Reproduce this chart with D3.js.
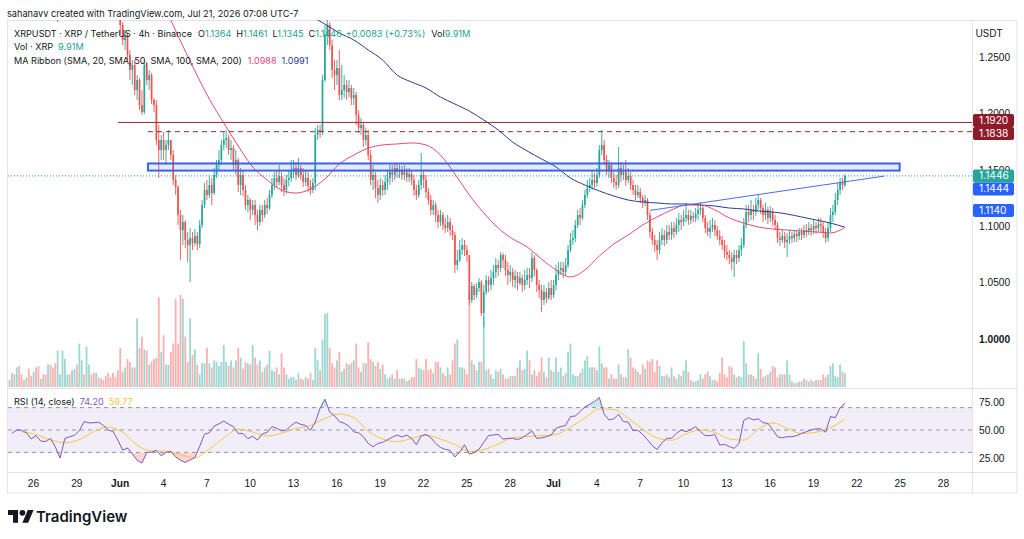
<!DOCTYPE html>
<html>
<head>
<meta charset="utf-8">
<script src="https://cdnjs.cloudflare.com/ajax/libs/d3/7.8.5/d3.min.js"></script>
<style>
  body { margin: 0; background: #ffffff; }
  svg { display: block; font-family: Inter, "Noto Sans", sans-serif; }
  .axis text { fill: #131722; font-size: 10.2px; }
  .axis path, .axis line { display: none; }
  .legend { font-size: 9.1px; fill: #131722; }
</style>
</head>
<body>
<div id="chart"></div>
<script>

// ---- data ----
// 4h bars, first one opens May 24 09:00 (chart time, UTC-7)
var barStart = Date.UTC(2026, 4, 24, 9);
var barHours = 4;
var firstOpen = 1.332;

var closes = [
  1.335,1.330,1.338,1.342,1.336,1.328,1.322,1.325,1.318,1.312,1.316,1.308,1.305,1.310,1.302,1.298,1.304,1.300,1.294,1.290,
  1.292,1.298,1.305,1.312,1.318,1.315,1.322,1.328,1.325,1.332,1.338,1.334,1.340,1.345,1.342,1.338,1.343,1.336,1.330,1.322,
  1.315,1.308,1.300,1.296,1.292,1.290,
  1.2784,1.2651,1.2695,1.2518,1.2385,1.2429,1.2207,1.2296,1.2074,1.2012,1.2429,1.2296,1.2340,1.2119,1.2074,1.1764,1.1675,1.1764,1.1675,1.1720,
  1.1764,1.1631,1.1410,1.1347,1.1099,1.0966,1.1037,1.0878,1.0833,1.0895,1.0851,1.0913,1.0842,1.1011,1.1188,1.1321,1.1277,1.1365,1.1294,1.1454,
  1.1543,1.1587,1.1720,1.1764,1.1782,1.1675,1.1693,1.1543,1.1587,1.1365,1.1454,1.1321,1.1188,1.1232,1.1144,1.1188,1.1099,1.1037,1.1144,1.1099,
  1.1188,1.1161,1.1277,1.1365,1.1427,1.1392,1.1445,1.1365,1.1321,1.1410,1.1427,1.1480,1.1516,1.1454,1.1516,1.1454,1.1392,1.1427,1.1356,1.1321,
  1.1383,1.1808,1.1853,1.1835,1.2296,1.2695,1.2784,1.2606,1.2385,1.2340,1.2402,1.2163,1.2207,1.2252,1.2190,1.2225,1.2136,1.2163,1.1986,1.1871,
  1.1897,1.1764,1.1808,1.1631,1.1410,1.1454,1.1339,1.1277,1.1365,1.1321,1.1392,1.1427,1.1480,1.1454,1.1516,1.1480,1.1498,1.1454,1.1480,1.1436,
  1.1463,1.1410,1.1321,1.1277,1.1365,1.1454,1.1410,1.1303,1.1232,1.1144,1.1188,1.1099,1.1037,1.1099,1.1011,1.0984,1.1037,1.0966,1.0922,1.0656,
  1.0700,1.0789,1.0833,1.0789,1.0745,1.0346,1.0470,1.0390,1.0452,1.0505,1.0230,1.0417,1.0523,1.0479,1.0541,1.0594,1.0656,1.0629,1.0745,1.0700,
  1.0612,1.0567,1.0594,1.0523,1.0558,1.0496,1.0541,1.0479,1.0523,1.0567,1.0541,1.0718,1.0612,1.0479,1.0434,1.0346,1.0417,1.0363,1.0452,1.0390,
  1.0479,1.0567,1.0612,1.0629,1.0594,1.0656,1.0789,1.0878,1.0895,1.1011,1.1099,1.1073,1.1188,1.1277,1.1339,1.1365,1.1410,1.1383,1.1454,1.1675,
  1.1720,1.1587,1.1498,1.1543,1.1427,1.1392,1.1365,1.1516,1.1454,1.1480,1.1410,1.1445,1.1365,1.1321,1.1277,1.1303,1.1250,1.1214,1.1232,1.1099,
  1.0949,1.0878,1.0833,1.0789,1.0878,1.0922,1.0878,1.0949,1.0922,1.0984,1.0949,1.1011,1.1055,1.1037,1.1073,1.1099,1.1055,1.1090,1.1073,1.1108,
  1.1144,1.1161,1.1073,1.0984,1.0949,1.0984,1.1011,1.0966,1.0913,1.0878,1.0833,1.0771,1.0745,1.0718,1.0683,1.0745,1.0718,1.0789,1.0833,1.1011,
  1.1126,1.1099,1.1144,1.1126,1.1188,1.1232,1.1161,1.1099,1.1144,1.1073,1.1126,1.1055,1.1011,1.0895,1.0878,1.0913,1.0860,1.0878,1.0913,1.0895,
  1.0931,1.0913,1.0949,1.0922,1.0966,1.0949,1.0984,1.0966,1.1002,1.0984,1.1019,1.1002,1.0949,1.0895,1.0984,1.1099,1.1126,1.1232,1.1321,1.1392,
  1.1364,1.1446
];

var highs = [
  1.341,1.338,1.343,1.348,1.344,1.337,1.330,1.330,1.327,1.320,1.321,1.318,1.311,1.314,1.311,1.305,1.308,1.307,1.302,1.297,
  1.297,1.303,1.310,1.317,1.323,1.321,1.327,1.333,1.331,1.337,1.343,1.341,1.345,1.350,1.348,1.344,1.347,1.344,1.338,1.332,
  1.324,1.317,1.310,1.303,1.299,1.296,
  1.2918,1.2810,1.2739,1.2713,1.2562,1.2473,1.2473,1.2340,1.2314,1.2207,1.2473,1.2456,1.2385,1.2358,1.2136,1.2119,1.1897,1.1808,1.1835,1.1764,
  1.1853,1.1764,1.1675,1.1454,1.1365,1.1144,1.1099,1.1055,1.0949,1.0984,1.0949,1.0975,1.0949,1.1055,1.1232,1.1383,1.1410,1.1454,1.1427,1.1516,
  1.1587,1.1675,1.1764,1.1835,1.1853,1.1808,1.1764,1.1720,1.1675,1.1605,1.1516,1.1498,1.1365,1.1277,1.1250,1.1232,1.1232,1.1144,1.1188,1.1188,
  1.1232,1.1250,1.1321,1.1427,1.1480,1.1498,1.1543,1.1480,1.1427,1.1454,1.1498,1.1587,1.1587,1.1569,1.1605,1.1543,1.1516,1.1498,1.1480,1.1410,
  1.1427,1.1871,1.1897,1.1897,1.2340,1.2784,1.2846,1.2810,1.2651,1.2473,1.2473,1.2562,1.2429,1.2340,1.2296,1.2296,1.2252,1.2225,1.2190,1.2030,
  1.1959,1.1924,1.1871,1.1853,1.1675,1.1543,1.1480,1.1410,1.1427,1.1410,1.1454,1.1498,1.1543,1.1543,1.1560,1.1560,1.1543,1.1534,1.1543,1.1516,
  1.1516,1.1498,1.1454,1.1365,1.1410,1.1649,1.1498,1.1454,1.1339,1.1277,1.1232,1.1214,1.1144,1.1144,1.1126,1.1073,1.1099,1.1073,1.1011,1.0949,
  1.0789,1.0878,1.0895,1.0878,1.0833,1.0745,1.0505,1.0488,1.0496,1.0541,1.0523,1.0479,1.0567,1.0558,1.0612,1.0656,1.0718,1.0700,1.0771,1.0762,
  1.0745,1.0683,1.0656,1.0629,1.0612,1.0594,1.0594,1.0567,1.0612,1.0629,1.0629,1.0771,1.0745,1.0629,1.0523,1.0479,1.0479,1.0452,1.0505,1.0523,
  1.0523,1.0656,1.0683,1.0683,1.0683,1.0718,1.0833,1.0940,1.0966,1.1055,1.1144,1.1161,1.1232,1.1321,1.1410,1.1427,1.1498,1.1472,1.1516,1.1720,
  1.1853,1.1764,1.1631,1.1587,1.1569,1.1480,1.1454,1.1702,1.1569,1.1543,1.1587,1.1516,1.1480,1.1410,1.1365,1.1365,1.1339,1.1277,1.1277,1.1250,
  1.1126,1.0984,1.0922,1.0878,1.0949,1.0984,1.0966,1.1011,1.1011,1.1037,1.1037,1.1073,1.1117,1.1099,1.1144,1.1206,1.1144,1.1144,1.1126,1.1161,
  1.1197,1.1214,1.1188,1.1099,1.1037,1.1055,1.1073,1.1055,1.1002,1.0966,1.0913,1.0878,1.0833,1.0789,1.0771,1.0789,1.0789,1.0833,1.0895,1.1073,
  1.1188,1.1188,1.1232,1.1188,1.1250,1.1277,1.1250,1.1188,1.1206,1.1170,1.1179,1.1161,1.1099,1.1037,1.0949,1.0966,1.0949,1.0940,1.0966,1.0949,
  1.0966,1.0966,1.0984,1.0984,1.1011,1.1019,1.1037,1.1019,1.1055,1.1037,1.1073,1.1073,1.1037,1.0984,1.1037,1.1161,1.1188,1.1294,1.1383,1.1427,
  1.1427,1.1461
];

var lows = [
  1.329,1.327,1.329,1.336,1.331,1.325,1.318,1.319,1.315,1.309,1.310,1.305,1.300,1.303,1.299,1.294,1.296,1.297,1.291,1.287,
  1.281,1.290,1.296,1.303,1.311,1.311,1.313,1.320,1.321,1.323,1.330,1.330,1.332,1.338,1.338,1.334,1.336,1.333,1.327,1.319,
  1.311,1.304,1.297,1.292,1.288,1.283,
  1.2695,1.2606,1.2562,1.2473,1.2296,1.2252,1.2163,1.2119,1.2030,1.1986,1.1995,1.2252,1.2207,1.2083,1.2012,1.1720,1.1427,1.1587,1.1587,1.1543,
  1.1675,1.1587,1.1365,1.1277,1.1011,1.0700,1.0833,1.0807,1.0683,1.0505,1.0789,1.0824,1.0789,1.0807,1.0984,1.1161,1.1232,1.1250,1.1188,1.1277,
  1.1427,1.1498,1.1543,1.1675,1.1693,1.1631,1.1587,1.1498,1.1454,1.1303,1.1277,1.1268,1.1144,1.1126,1.1055,1.1099,1.1011,1.0966,1.1002,1.1037,
  1.1073,1.1108,1.1144,1.1250,1.1321,1.1339,1.1365,1.1303,1.1268,1.1285,1.1356,1.1392,1.1427,1.1410,1.1427,1.1410,1.1347,1.1356,1.1303,1.1277,
  1.1294,1.1321,1.1764,1.1782,1.1808,1.2278,1.2606,1.2562,1.2314,1.2207,1.2252,1.2119,1.2119,1.2136,1.2119,1.2145,1.2074,1.2074,1.1897,1.1826,
  1.1808,1.1702,1.1720,1.1587,1.1365,1.1321,1.1250,1.1206,1.1232,1.1268,1.1277,1.1321,1.1365,1.1392,1.1410,1.1427,1.1427,1.1410,1.1410,1.1392,
  1.1392,1.1365,1.1268,1.1232,1.1250,1.1321,1.1339,1.1250,1.1188,1.1099,1.1099,1.1037,1.0984,1.1002,1.0966,1.0940,1.0949,1.0913,1.0878,1.0585,
  1.0612,1.0683,1.0745,1.0736,1.0683,1.0301,1.0319,1.0346,1.0363,1.0417,1.0204,1.0107,1.0390,1.0417,1.0434,1.0479,1.0541,1.0558,1.0594,1.0629,
  1.0558,1.0479,1.0505,1.0461,1.0452,1.0434,1.0479,1.0417,1.0434,1.0479,1.0452,1.0505,1.0558,1.0417,1.0363,1.0239,1.0301,1.0319,1.0346,1.0346,
  1.0363,1.0434,1.0523,1.0567,1.0541,1.0567,1.0629,1.0771,1.0833,1.0860,1.0984,1.1011,1.1055,1.1161,1.1250,1.1303,1.1321,1.1339,1.1356,1.1427,
  1.1631,1.1543,1.1454,1.1427,1.1383,1.1339,1.1321,1.1339,1.1392,1.1410,1.1356,1.1383,1.1321,1.1277,1.1232,1.1250,1.1206,1.1161,1.1179,1.1055,
  1.0895,1.0833,1.0771,1.0700,1.0753,1.0833,1.0824,1.0842,1.0878,1.0878,1.0895,1.0922,1.0949,1.0966,1.1002,1.1037,1.1011,1.1019,1.1037,1.1037,
  1.1055,1.1099,1.1037,1.0940,1.0913,1.0895,1.0949,1.0913,1.0878,1.0833,1.0789,1.0718,1.0700,1.0665,1.0612,1.0550,1.0665,1.0683,1.0736,1.0807,
  1.0984,1.1037,1.1055,1.1055,1.1090,1.1144,1.1108,1.1037,1.1055,1.1019,1.1037,1.1002,1.0966,1.0851,1.0824,1.0851,1.0807,1.0727,1.0842,1.0851,
  1.0860,1.0860,1.0878,1.0878,1.0895,1.0904,1.0922,1.0913,1.0931,1.0931,1.0949,1.0949,1.0895,1.0851,1.0860,1.0949,1.1037,1.1099,1.1188,1.1277,
  1.1321,1.1345
];

// volume, millions of XRP
var volumes = [
  5,10,9,14,15,9,5,7,13,8,11,14,15,6,9,9,16,16,14,17,26,9,26,20,9,9,12,13,16,31,19,9,29,16,9,10,10,7,6,5,8,10,7,10,7,12,
  28,11,14,20,18,14,14,49,28,36,27,26,16,18,20,21,64,25,37,16,16,25,31,63,31,66,63,36,18,49,23,27,16,9,
  17,17,28,17,14,19,18,15,18,30, 18,15,19,14,19,28,21,13,18,17, 16,30,21,16,19,11,14,16,26,12,
  11,14,9,24,14,9,6,7,7,5, 10,6,5,7,6,10,5,28,19,12, 34,52,53,28,17,14,19,25,11,13,
  17,16,17,19,31,14,11,17,17,32, 20,18,15,18,13,16,9,6,7,9, 6,12,6,6,6,4,5,7,7,20,
  14,13,12,20,12,13,10,18,18,14, 10,8,14,9,19,31,34,14,14,13,9,
  68,19,16,12,18,18,50,12,13,9,6,12,11,
  13,9,6,6,8,8,8,14,19,12, 13,26,19,9,12,8,11,21,11,7, 21,12,11,21,11,14,8,10,25,31,
  9,8,8,10,13,19,22,14,14,14, 12,29,17,14,14,6,9,6,6,16, 9,7,7,27,21,14,13,11,9,16,
  13,19,18,20,11,19,15,8,8,9, 7,14,8,6,9,8,12,19,11,5, 4,4,5,9,6,9,11,8,5,5,
  4,10,21,9,7,15,14,9,7,8, 7,33,17,9,9,8,6,24,13,7, 8,9,11,15,14,7,9,9,9,19,
  9,4,3,3,4,4,6,5,4,5, 4,5,5,5,9,7,9,15,17,8, 7,16,11,9.91
];

// RSI(14), read every second bar starting with bar 1
var rsiValues = [
  47,50,49.8,47.5,42,45,40,39.8,42.5,35, 25,42.5,44,45.3,49.5,57.5,56.3,56.5,57,54,
  50,48.6,41,32,34,28.5,23,20.5,29.8,30.3, 31.8,27,30,31,26,23,21,23.2,25.3,35.5,
  46.3,47.5,53.5,55.5,58,55.2,53,47,46.8,42.3, 44.5,41,46.5,47.8,53,51.5,49.2,50,54,57,
  55,54,49.8,57,69.5,77.5,66,62.8,57.5,56, 53.4,48.4,47.5,44,38,35,38,39,41.3,43.5,
  45.5,43.8,45.4,42.5,36.8,44.8,46,43.2,38,34.5, 32.7,31.8,26,30,36.8,28.5,29.8,32.8,39,45,
  45.6,46,41.8,42.6,42.6,41.4,43,46,49,42.5, 43,44,45.5,51.5,53,54,62,62.5,66.5,70.6,
  73,75.5,79,64,59,60,64,57.5,57,49.5, 49.8,46,41.2,36,32.5,38.5,42.5,42.7,47,50,
  48.5,50.5,53,48.5,45,45,46,36.6,37.2,35.2, 33.6,38,58.6,61,59,60,56.5,56,50.5,44,
  43,44,44,45,47,48.5,50,51,51,48, 62,61,69.8,74.2
];

// RSI-based MA, read every sixth bar starting with bar 5
var rsiMaValues = [
  48.3,46,41,38.7,41.5,48.5,52.7,48,36.4,31.2, 31.1,27.8,25.2,33,43,50.5,48.2,44.6,47.2,51.3,
  54,60.3,64.3,61,49,42,39.6,42.4,45.3,42, 37,30.9,32.5,37.5,43,44.3,45,46,52.5,60.7,
  68.8,68.3,60.6,50.6,42.8,40.9,46.5,50,47.8,42, 41,50.8,56.4,51.5,46.8,48,52,59.77
];

// MA ribbon lines, read every sixth bar starting with bar 5
var maPinkValues = [
  1.340,1.338,1.336,1.333,1.330,1.328,1.326,1.323,1.318,1.308,
  1.2908,1.2642,1.2376,1.2128,1.1915,1.1711,1.1525,1.1410,1.1321,1.1294,
  1.1330,1.1418,1.1551,1.1631,1.1693,1.1720,1.1729,1.1738,1.1720,1.1631,
  1.1463,1.1277,1.1117,1.0984,1.0887,1.0816,1.0709,1.0612,1.0550,1.0612,
  1.0736,1.0842,1.0922,1.1011,1.1082,1.1144,1.1188,1.1188,1.1144,1.1073,
  1.1028,1.0993,1.0975,1.0966,1.0957,1.0949,1.0940,1.0988
];
var maNavyValues = [
  1.430,1.423,1.416,1.408,1.401,1.394,1.387,1.380,1.372,1.365,
  1.358,1.351,1.344,1.337,1.329,1.322,1.315,1.308,1.300,1.2935,
  1.2864,1.2792,1.2713,1.2651,1.2562,1.2473,1.2340,1.2278,1.2225,1.2145,
  1.2083,1.2021,1.1941,1.1853,1.1746,1.1667,1.1596,1.1525,1.1427,1.1365,
  1.1312,1.1268,1.1232,1.1214,1.1206,1.1197,1.1197,1.1188,1.1179,1.1161,
  1.1153,1.1135,1.1126,1.1108,1.1082,1.1055,1.1028,1.0991
];

var priceTicks = [1.00, 1.05, 1.10, 1.15, 1.20, 1.25];
var rsiTicks = [25, 50, 75];
var dateTicks = ['2026-05-26','2026-05-29','2026-06-01','2026-06-04','2026-06-07','2026-06-10','2026-06-13',
  '2026-06-16','2026-06-19','2026-06-22','2026-06-25','2026-06-28','2026-07-01','2026-07-04','2026-07-07',
  '2026-07-10','2026-07-13','2026-07-16','2026-07-19','2026-07-22','2026-07-25','2026-07-28'];
var dateLabels = ['26','29','Jun','4','7','10','13','16','19','22','25','28','Jul','4','7','10','13','16','19','22','25','28'];

// user drawings
var resistanceLevel = 1.1920, resistanceFrom = '2026-05-31 21:00';
var dashedLevel = 1.1838, dashedFrom = '2026-06-02 23:00';
var zoneTop = 1.1556, zoneBottom = 1.1493, zoneFrom = '2026-06-02 23:00', zoneTo = '2026-07-25 00:00';
var trendFrom = '2026-07-07 17:00', trendFromPrice = 1.1140;
var trendTo = '2026-07-23 22:00', trendToPrice = 1.1444;

// ---- layout ----
var width = 1024;
var height = 539;
var paneLeft = 8, paneRight = 972;
var mainTop = 20, mainBottom = 388, rsiBottom = 472, frameBottom = 493, frameRight = 1017;

var upColor = '#26a69a', downColor = '#ef5350';
var parseDay = d3.utcParse('%Y-%m-%d');
var parseTime = d3.utcParse('%Y-%m-%d %H:%M');

var bars = closes.map(function(c, i) {
  return {
    t: new Date(barStart + i * barHours * 3600000),
    o: i === 0 ? firstOpen : closes[i - 1],
    h: highs[i],
    l: lows[i],
    c: c,
    v: volumes[i]
  };
});

function barTime(i) {
  return new Date(barStart + i * barHours * 3600000);
}

var svg = d3.select('#chart').append('svg')
  .attr('width', width)
  .attr('height', height);

// scales
var xScale = d3.scaleUtc()
  .domain([parseDay('2026-05-26'), parseDay('2026-07-28')])
  .range([33, 943]);

var yScale = d3.scaleLinear()
  .domain([1.0, 1.25])
  .range([339, 57]);

var volScale = d3.scaleLinear()
  .domain([0, 70])
  .range([387, 289]);

var rsiScale = d3.scaleLinear()
  .domain([25, 75])
  .range([458, 402]);

// clip paths
var defs = svg.append('defs');
defs.append('clipPath').attr('id', 'clipMain').append('rect')
  .attr('x', paneLeft).attr('y', mainTop)
  .attr('width', paneRight - paneLeft).attr('height', mainBottom - mainTop);
defs.append('clipPath').attr('id', 'clipRsi').append('rect')
  .attr('x', paneLeft).attr('y', mainBottom)
  .attr('width', paneRight - paneLeft).attr('height', rsiBottom - mainBottom);
defs.append('clipPath').attr('id', 'clipOver').append('rect')
  .attr('x', paneLeft).attr('y', mainBottom)
  .attr('width', paneRight - paneLeft).attr('height', rsiScale(70) - mainBottom);
defs.append('clipPath').attr('id', 'clipUnder').append('rect')
  .attr('x', paneLeft).attr('y', rsiScale(30))
  .attr('width', paneRight - paneLeft).attr('height', rsiBottom - rsiScale(30));

// header
svg.append('text')
  .attr('x', 7)
  .attr('y', 17)
  .style('font-size', '9.2px')
  .style('fill', '#131722')
  .text('sahanavv created with TradingView.com, Jul 21, 2026 07:08 UTC-7');

// frame and pane separators
var grid = svg.append('g').attr('stroke', '#e0e3eb').attr('fill', 'none');
grid.append('rect')
  .attr('x', 7.5).attr('y', 20.5)
  .attr('width', frameRight - 7.5).attr('height', frameBottom - 20.5);
grid.append('line').attr('x1', 7.5).attr('x2', frameRight).attr('y1', mainBottom + 0.5).attr('y2', mainBottom + 0.5);
grid.append('line').attr('x1', 7.5).attr('x2', frameRight).attr('y1', rsiBottom + 0.5).attr('y2', rsiBottom + 0.5);
grid.append('line').attr('x1', paneRight + 0.5).attr('x2', paneRight + 0.5).attr('y1', 20.5).attr('y2', frameBottom);

var main = svg.append('g').attr('clip-path', 'url(#clipMain)');

// volume
main.selectAll('rect.vol')
  .data(bars)
  .enter()
  .append('rect')
  .attr('class', 'vol')
  .attr('x', function(d) { return xScale(d.t) - 0.9; })
  .attr('y', function(d) { return volScale(d.v); })
  .attr('width', 1.8)
  .attr('height', function(d) { return volScale(0) - volScale(d.v); })
  .attr('fill', function(d) { return d.c >= d.o ? upColor : downColor; })
  .attr('opacity', 0.45);

// candles
var candle = main.selectAll('g.candle')
  .data(bars)
  .enter()
  .append('g')
  .attr('class', 'candle');

candle.append('line')
  .attr('x1', function(d) { return xScale(d.t); })
  .attr('x2', function(d) { return xScale(d.t); })
  .attr('y1', function(d) { return yScale(Math.max(d.h, d.o, d.c)); })
  .attr('y2', function(d) { return yScale(Math.min(d.l, d.o, d.c)); })
  .attr('stroke', function(d) { return d.c >= d.o ? upColor : downColor; })
  .attr('stroke-width', 0.9);

candle.append('rect')
  .attr('x', function(d) { return xScale(d.t) - 0.85; })
  .attr('y', function(d) { return yScale(Math.max(d.o, d.c)); })
  .attr('width', 1.7)
  .attr('height', function(d) { return Math.max(1, Math.abs(yScale(d.o) - yScale(d.c))); })
  .attr('fill', function(d) { return d.c >= d.o ? upColor : downColor; });

// moving averages
var maLine = d3.line()
  .x(function(d, i) { return xScale(barTime(5 + i * 6)); })
  .y(function(d) { return yScale(d); })
  .curve(d3.curveMonotoneX);

main.append('path')
  .datum(maNavyValues)
  .attr('d', maLine)
  .attr('fill', 'none')
  .attr('stroke', '#2c3d8f')
  .attr('stroke-width', 1);

main.append('path')
  .datum(maPinkValues)
  .attr('d', maLine)
  .attr('fill', 'none')
  .attr('stroke', '#df4b7c')
  .attr('stroke-width', 1);

// horizontal levels
main.append('line')
  .attr('x1', xScale(parseTime(resistanceFrom)))
  .attr('x2', paneRight)
  .attr('y1', yScale(resistanceLevel))
  .attr('y2', yScale(resistanceLevel))
  .attr('stroke', '#8e2a35')
  .attr('stroke-width', 1);

main.append('line')
  .attr('x1', xScale(parseTime(dashedFrom)))
  .attr('x2', paneRight)
  .attr('y1', yScale(dashedLevel))
  .attr('y2', yScale(dashedLevel))
  .attr('stroke', '#8e2a35')
  .attr('stroke-width', 1)
  .attr('stroke-dasharray', '5,4');

// supply zone
main.append('rect')
  .attr('x', xScale(parseTime(zoneFrom)))
  .attr('y', yScale(zoneTop))
  .attr('width', xScale(parseTime(zoneTo)) - xScale(parseTime(zoneFrom)))
  .attr('height', yScale(zoneBottom) - yScale(zoneTop))
  .attr('fill', 'rgba(41, 98, 255, 0.12)')
  .attr('stroke', '#3a63e8')
  .attr('stroke-width', 2);

// rising trend line
main.append('line')
  .attr('x1', xScale(parseTime(trendFrom)))
  .attr('y1', yScale(trendFromPrice))
  .attr('x2', xScale(parseTime(trendTo)))
  .attr('y2', yScale(trendToPrice))
  .attr('stroke', '#4a6cf0')
  .attr('stroke-width', 1);

// last price line
var lastBar = bars[bars.length - 1];
main.append('line')
  .attr('x1', paneLeft)
  .attr('x2', paneRight)
  .attr('y1', yScale(lastBar.c))
  .attr('y2', yScale(lastBar.c))
  .attr('stroke', upColor)
  .attr('stroke-width', 1)
  .attr('stroke-dasharray', '1,2');

// legend
var fmt = d3.format('.4f');
var teal = '#22a093';
var legend1 = [
  ['XRPUSDT · XRP / TetherUS · 4h · Binance', '#131722', 0],
  ['O', '#131722', 6], [fmt(lastBar.o), teal, 0],
  ['H', '#131722', 5], [fmt(lastBar.h), teal, 0],
  ['L', '#131722', 5], [fmt(lastBar.l), teal, 0],
  ['C', '#131722', 5], [fmt(lastBar.c), teal, 0],
  ['+0.0083 (+0.73%)', teal, 4],
  ['Vol', '#131722', 6], ['9.91M', teal, 0]
];
var legend2 = [['Vol · XRP', '#131722', 0], ['9.91M', teal, 5]];
var legend3 = [
  ['MA Ribbon (SMA, 20, SMA, 50, SMA, 100, SMA, 200)', '#131722', 0],
  [fmt(maPinkValues[maPinkValues.length - 1]), '#df4b7c', 6],
  [fmt(maNavyValues[maNavyValues.length - 1]), '#2c3d8f', 5]
];
var legendRsi = [
  ['RSI (14, close)', '#131722', 0],
  [d3.format('.2f')(rsiValues[rsiValues.length - 1]), '#7e57c2', 5],
  [d3.format('.2f')(rsiMaValues[rsiMaValues.length - 1]), '#f5c542', 5]
];

function drawLegend(parts, ly) {
  var t = svg.append('text')
    .attr('class', 'legend')
    .attr('x', 14)
    .attr('y', ly);
  t.selectAll('tspan')
    .data(parts)
    .enter()
    .append('tspan')
    .attr('dx', function(d) { return d[2]; })
    .style('fill', function(d) { return d[1]; })
    .text(function(d) { return d[0]; });
}
drawLegend(legend1, 36.5);
drawLegend(legend2, 50);
drawLegend(legend3, 63.5);

// ---- RSI pane ----
var rsiG = svg.append('g').attr('clip-path', 'url(#clipRsi)');

rsiG.append('rect')
  .attr('x', paneLeft)
  .attr('y', rsiScale(70))
  .attr('width', paneRight - paneLeft)
  .attr('height', rsiScale(30) - rsiScale(70))
  .attr('fill', 'rgba(126, 87, 194, 0.1)');

rsiG.selectAll('line.band')
  .data([70, 50, 30])
  .enter()
  .append('line')
  .attr('class', 'band')
  .attr('x1', paneLeft)
  .attr('x2', paneRight)
  .attr('y1', function(d) { return rsiScale(d); })
  .attr('y2', function(d) { return rsiScale(d); })
  .attr('stroke', '#9598a1')
  .attr('stroke-width', 1)
  .attr('stroke-dasharray', '4,4');

function rsiX(d, i) { return xScale(barTime(1 + i * 2)); }

rsiG.append('path')
  .datum(rsiValues)
  .attr('clip-path', 'url(#clipOver)')
  .attr('d', d3.area().x(rsiX).y0(rsiScale(70)).y1(function(d) { return rsiScale(d); }))
  .attr('fill', 'rgba(38, 166, 154, 0.25)');

rsiG.append('path')
  .datum(rsiValues)
  .attr('clip-path', 'url(#clipUnder)')
  .attr('d', d3.area().x(rsiX).y0(rsiScale(30)).y1(function(d) { return rsiScale(d); }))
  .attr('fill', 'rgba(239, 83, 80, 0.25)');

rsiG.append('path')
  .datum(rsiMaValues)
  .attr('d', d3.line()
    .x(function(d, i) { return xScale(barTime(5 + i * 6)); })
    .y(function(d) { return rsiScale(d); })
    .curve(d3.curveMonotoneX))
  .attr('fill', 'none')
  .attr('stroke', '#f5c542')
  .attr('stroke-width', 1);

rsiG.append('path')
  .datum(rsiValues)
  .attr('d', d3.line().x(rsiX).y(function(d) { return rsiScale(d); }))
  .attr('fill', 'none')
  .attr('stroke', '#7e57c2')
  .attr('stroke-width', 1);

drawLegend(legendRsi, 405);

// ---- axes ----
var priceAxis = svg.append('g')
  .attr('class', 'axis')
  .attr('transform', 'translate(' + paneRight + ',0)')
  .call(d3.axisRight(yScale).tickValues(priceTicks).tickSize(0).tickPadding(7).tickFormat(fmt));
priceAxis.selectAll('text')
  .style('font-weight', function(d) { return d === 1 ? 700 : 400; });

svg.append('text')
  .attr('x', 989)
  .attr('y', 36.5)
  .attr('text-anchor', 'middle')
  .style('font-size', '10px')
  .style('fill', '#131722')
  .text('USDT');

svg.append('g')
  .attr('class', 'axis')
  .attr('transform', 'translate(' + paneRight + ',0)')
  .call(d3.axisRight(rsiScale).tickValues(rsiTicks).tickSize(0).tickPadding(7).tickFormat(d3.format('.2f')));

var timeAxis = svg.append('g')
  .attr('class', 'axis')
  .attr('transform', 'translate(0,' + rsiBottom + ')')
  .call(d3.axisBottom(xScale)
    .tickValues(dateTicks.map(function(d) { return parseDay(d); }))
    .tickSize(0)
    .tickPadding(8)
    .tickFormat(function(d, i) { return dateLabels[i]; }));
timeAxis.selectAll('text')
  .style('font-weight', function(d, i) { return dateLabels[i] === 'Jun' || dateLabels[i] === 'Jul' ? 700 : 400; });

// price labels on the axis
var axisLabels = [
  { value: resistanceLevel, bg: '#8e1b2a', fixed: false },
  { value: dashedLevel, bg: '#8e1b2a', fixed: false },
  { value: lastBar.c, bg: upColor, fixed: true },
  { value: trendToPrice, bg: '#2962ff', fixed: false },
  { value: trendFromPrice, bg: '#2962ff', fixed: false }
];
axisLabels.forEach(function(d) { d.pos = yScale(d.value); });
axisLabels.sort(function(a, b) { return a.pos - b.pos; });
var labelH = 13;
for (var i = 1; i < axisLabels.length; i++) {
  var a = axisLabels[i - 1], b = axisLabels[i];
  if (b.pos - a.pos < labelH) {
    if (a.fixed) {
      b.pos = a.pos + labelH;
    } else if (b.fixed) {
      a.pos = b.pos - labelH;
    } else {
      var mid = (a.pos + b.pos) / 2;
      a.pos = mid - labelH / 2;
      b.pos = mid + labelH / 2;
    }
  }
}

var label = svg.selectAll('g.plabel')
  .data(axisLabels)
  .enter()
  .append('g')
  .attr('class', 'plabel')
  .attr('transform', function(d) { return 'translate(' + (paneRight + 1) + ',' + d.pos + ')'; });

label.append('rect')
  .attr('x', 0)
  .attr('y', -labelH / 2)
  .attr('width', 41)
  .attr('height', labelH)
  .attr('rx', 2)
  .attr('fill', function(d) { return d.bg; });

label.append('text')
  .attr('x', 6)
  .attr('dy', '0.35em')
  .style('font-size', '10.2px')
  .style('fill', '#ffffff')
  .text(function(d) { return fmt(d.value); });

// ---- footer logo ----
var logo = svg.append('g')
  .attr('transform', 'translate(8,507) scale(0.72)')
  .attr('fill', '#131722');
logo.append('path').attr('d', 'M14 22H7V11H0V4h14v18zM28 22h-8l7.5-18h8L28 22z');
logo.append('circle').attr('cx', 20).attr('cy', 8).attr('r', 4);

svg.append('text')
  .attr('x', 36)
  .attr('y', 522)
  .style('font-size', '15px')
  .style('font-weight', 600)
  .style('fill', '#131722')
  .text('TradingView');

</script>
</body>
</html>
